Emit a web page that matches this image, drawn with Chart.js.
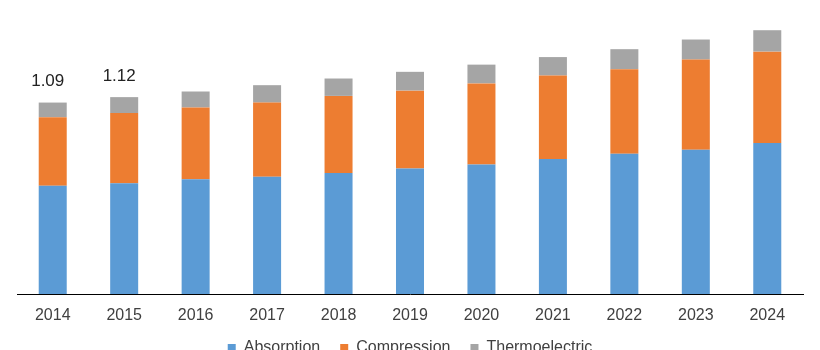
<!DOCTYPE html>
<html>
<head>
<meta charset="utf-8">
<script src="https://cdn.jsdelivr.net/npm/chart.js@4"></script>
<style>
  html, body { margin: 0; padding: 0; background: #fff; overflow: hidden; }
  #wrap { width: 820px; height: 350px; overflow: hidden; }
  #box { width: 820px; height: 366px; }
</style>
</head>
<body>
<div id="wrap"><div id="box"><canvas id="grafico"></canvas></div></div>
<script>
// datos
const years = ['2014', '2015', '2016', '2017', '2018', '2019', '2020', '2021', '2022', '2023', '2024'];
const absorption = [0.617, 0.631, 0.654, 0.668, 0.689, 0.714, 0.737, 0.769, 0.799, 0.822, 0.860];
const compression = [0.390, 0.399, 0.408, 0.422, 0.439, 0.444, 0.462, 0.475, 0.481, 0.513, 0.520];
const thermoelectric = [0.083, 0.091, 0.091, 0.099, 0.099, 0.107, 0.107, 0.105, 0.114, 0.114, 0.122];
const totalLabels = ['1.09', '1.12'];

const fuente = "'Liberation Sans', Arial, sans-serif";

// etiquetas de total encima de las dos primeras barras
const etiquetasTotal = {
  id: 'etiquetasTotal',
  afterLayout(chart) {
    // que no se recorten las etiquetas del eje x
    chart.scales.x.bottom = chart.height;
  },
  afterDatasetsDraw(chart) {
    const ctx = chart.ctx;
    const meta = chart.getDatasetMeta(2);
    ctx.save();
    ctx.font = '17px ' + fuente;
    ctx.fillStyle = '#222';
    ctx.textAlign = 'center';
    ctx.textBaseline = 'middle';
    totalLabels.forEach((txt, i) => {
      const el = meta.data[i];
      ctx.fillText(txt, el.x - 5, el.y - 21);
    });
    ctx.restore();
  }
};

new Chart(document.getElementById('grafico'), {
  type: 'bar',
  data: {
    labels: years,
    datasets: [
      { label: 'Absorption', data: absorption, backgroundColor: '#5B9BD5' },
      { label: 'Compression', data: compression, backgroundColor: '#ED7D31' },
      { label: 'Thermoelectric', data: thermoelectric, backgroundColor: '#A5A5A5' }
    ]
  },
  options: {
    responsive: true,
    maintainAspectRatio: false,
    animation: false,
    datasets: { bar: { barPercentage: 0.392, categoryPercentage: 1, borderWidth: 0 } },
    layout: { padding: { left: 17, right: 17, top: 13, bottom: 0 } },
    plugins: {
      tooltip: { enabled: false },
      legend: {
        position: 'bottom',
        labels: {
          boxWidth: 8,
          boxHeight: 8,
          padding: 20,
          color: '#404040',
          font: { size: 16, family: fuente }
        }
      }
    },
    scales: {
      x: {
        stacked: true,
        grid: { display: false, drawTicks: false },
        border: { display: true, color: '#000', width: 1 },
        ticks: { color: '#404040', padding: 12, font: { size: 16, family: fuente } },
        afterFit(scale) { scale.height = 26; }
      },
      y: {
        stacked: true,
        display: false,
        min: 0,
        max: 1.6
      }
    }
  },
  plugins: [etiquetasTotal]
});
</script>
</body>
</html>
